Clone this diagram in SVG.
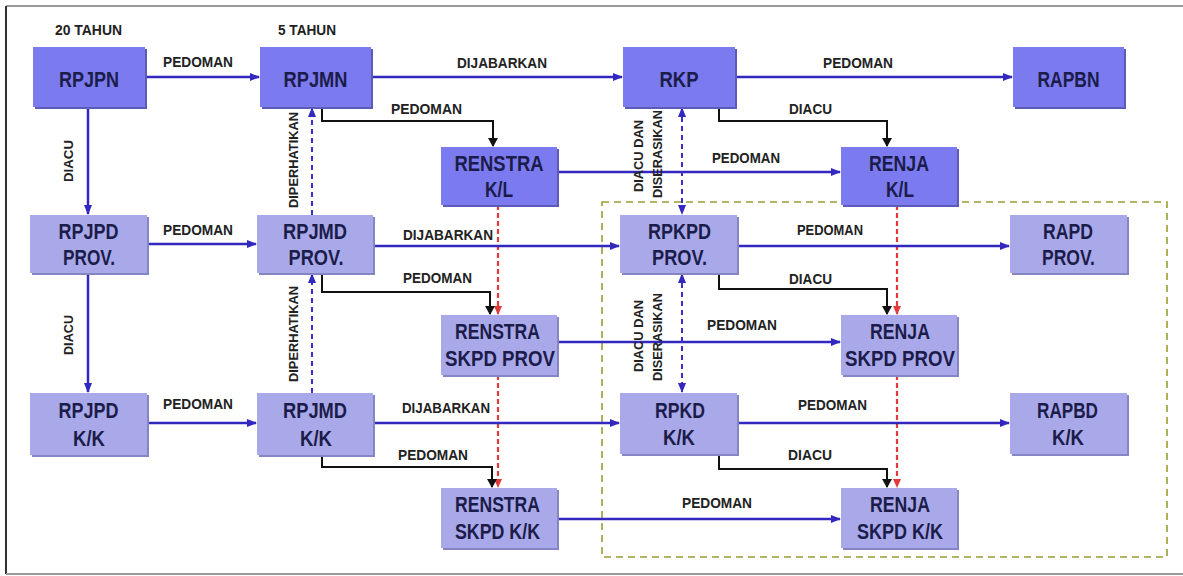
<svg xmlns="http://www.w3.org/2000/svg" width="1183" height="576" viewBox="0 0 1183 576">
<defs>
<style>
.bg{fill:#ffffff}
.frameT{stroke:#9a9a9a;stroke-width:2;fill:none}
.frameL{stroke:#333333;stroke-width:2;fill:none}
.dark{fill:#7b7bef}
.darkS{fill:#5c5cb8}
.light{fill:#a9a9ea}
.lightS{fill:#8585c4}
.nt{font-family:"Liberation Sans",Arial,sans-serif;font-weight:bold;font-size:22px;fill:#1c1c4a;text-anchor:middle}
.lb{font-family:"Liberation Sans",Arial,sans-serif;font-weight:bold;font-size:14.5px;fill:#222222}
.vl{font-family:"Liberation Sans",Arial,sans-serif;font-weight:bold;font-size:13.5px;fill:#222222;text-anchor:middle}
.blue{stroke:#3228c0;stroke-width:2.5;fill:none}
.black{stroke:#111111;stroke-width:2;fill:none}
.bdash{stroke:#3a30c8;stroke-width:2;stroke-dasharray:5 4;fill:none}
.rdash{stroke:#e03a3a;stroke-width:2.2;stroke-dasharray:5 3;fill:none}
.odash{stroke:#9c9c34;stroke-width:1.6;stroke-dasharray:7 5;fill:none}
</style>
<marker id="ab" markerUnits="userSpaceOnUse" markerWidth="10" markerHeight="8" refX="9" refY="4" orient="auto-start-reverse"><path d="M0,0 L10,4 L0,8 z" fill="#3228c0"/></marker>
<marker id="ak" markerUnits="userSpaceOnUse" markerWidth="9" markerHeight="10" refX="8" refY="5" orient="auto"><path d="M0,0 L9,5 L0,10 z" fill="#111111"/></marker>
<marker id="ar" markerUnits="userSpaceOnUse" markerWidth="9" markerHeight="8" refX="8" refY="4" orient="auto"><path d="M0,0 L9,4 L0,8 z" fill="#e03a3a"/></marker>
</defs>
<rect class="bg" x="0" y="0" width="1183" height="576"/>
<g id="frame">
<line class="frameT" x1="6" y1="6" x2="1183" y2="6"/>
<line class="frameL" x1="6" y1="6" x2="6" y2="574"/>
<line class="frameT" x1="6" y1="574" x2="1183" y2="574"/>
<rect class="odash" x="602" y="202" width="565" height="355"/>
</g>
<g id="headers">
<text class="lb" x="55" y="35" textLength="67" lengthAdjust="spacingAndGlyphs">20 TAHUN</text>
<text class="lb" x="278" y="35" textLength="58" lengthAdjust="spacingAndGlyphs">5 TAHUN</text>
</g>
<g id="connectors">
<line class="blue" x1="145" y1="77" x2="259" y2="77" marker-end="url(#ab)"/>
<text class="lb" x="163" y="67" textLength="70" lengthAdjust="spacingAndGlyphs">PEDOMAN</text>
<line class="blue" x1="371" y1="77" x2="622" y2="77" marker-end="url(#ab)"/>
<text class="lb" x="457" y="68" textLength="90" lengthAdjust="spacingAndGlyphs">DIJABARKAN</text>
<line class="blue" x1="735" y1="77" x2="1012" y2="77" marker-end="url(#ab)"/>
<text class="lb" x="823" y="68" textLength="70" lengthAdjust="spacingAndGlyphs">PEDOMAN</text>
<polyline class="black" points="322,107 322,121 493,121 493,146" marker-end="url(#ak)"/>
<text class="lb" x="391" y="114" textLength="71" lengthAdjust="spacingAndGlyphs">PEDOMAN</text>
<polyline class="black" points="719,107 719,121 887,121 887,146" marker-end="url(#ak)"/>
<text class="lb" x="789" y="114" textLength="43" lengthAdjust="spacingAndGlyphs">DIACU</text>
<line class="blue" x1="557" y1="172" x2="840" y2="172" marker-end="url(#ab)"/>
<text class="lb" x="712" y="163" textLength="68" lengthAdjust="spacingAndGlyphs">PEDOMAN</text>
<line class="blue" x1="88" y1="107" x2="88" y2="214" marker-end="url(#ab)"/>
<text class="vl" transform="translate(73 161) rotate(-90)" textLength="42" lengthAdjust="spacingAndGlyphs">DIACU</text>
<line class="bdash" x1="312" y1="215" x2="312" y2="108" marker-end="url(#ab)"/>
<text class="vl" transform="translate(298 160) rotate(-90)" textLength="96" lengthAdjust="spacingAndGlyphs">DIPERHATIKAN</text>
<line class="bdash" x1="682" y1="108" x2="682" y2="214" marker-start="url(#ab)" marker-end="url(#ab)"/>
<text class="vl" transform="translate(643 156) rotate(-90)" textLength="72" lengthAdjust="spacingAndGlyphs">DIACU DAN</text>
<text class="vl" transform="translate(662 154) rotate(-90)" textLength="88" lengthAdjust="spacingAndGlyphs">DISERASIKAN</text>
<line class="rdash" x1="498" y1="205" x2="498" y2="314" marker-end="url(#ar)"/>
<line class="rdash" x1="897" y1="205" x2="897" y2="314" marker-end="url(#ar)"/>
<line class="blue" x1="147" y1="244" x2="256" y2="244" marker-end="url(#ab)"/>
<text class="lb" x="163" y="235" textLength="70" lengthAdjust="spacingAndGlyphs">PEDOMAN</text>
<line class="blue" x1="373" y1="246" x2="619" y2="246" marker-end="url(#ab)"/>
<text class="lb" x="403" y="240" textLength="90" lengthAdjust="spacingAndGlyphs">DIJABARKAN</text>
<line class="blue" x1="737" y1="246" x2="1009" y2="246" marker-end="url(#ab)"/>
<text class="lb" x="797" y="235" textLength="66" lengthAdjust="spacingAndGlyphs">PEDOMAN</text>
<polyline class="black" points="322,273 322,292 490,292 490,314" marker-end="url(#ak)"/>
<text class="lb" x="403" y="283" textLength="69" lengthAdjust="spacingAndGlyphs">PEDOMAN</text>
<polyline class="black" points="719,273 719,289 887,289 887,314" marker-end="url(#ak)"/>
<text class="lb" x="789" y="284" textLength="43" lengthAdjust="spacingAndGlyphs">DIACU</text>
<line class="blue" x1="557" y1="342" x2="840" y2="342" marker-end="url(#ab)"/>
<text class="lb" x="707" y="330" textLength="70" lengthAdjust="spacingAndGlyphs">PEDOMAN</text>
<line class="blue" x1="88" y1="273" x2="88" y2="392" marker-end="url(#ab)"/>
<text class="vl" transform="translate(73 335) rotate(-90)" textLength="40" lengthAdjust="spacingAndGlyphs">DIACU</text>
<line class="bdash" x1="312" y1="393" x2="312" y2="274" marker-end="url(#ab)"/>
<text class="vl" transform="translate(298 334) rotate(-90)" textLength="96" lengthAdjust="spacingAndGlyphs">DIPERHATIKAN</text>
<line class="bdash" x1="682" y1="274" x2="682" y2="392" marker-start="url(#ab)" marker-end="url(#ab)"/>
<text class="vl" transform="translate(643 336) rotate(-90)" textLength="72" lengthAdjust="spacingAndGlyphs">DIACU DAN</text>
<text class="vl" transform="translate(662 337) rotate(-90)" textLength="88" lengthAdjust="spacingAndGlyphs">DISERASIKAN</text>
<line class="rdash" x1="498" y1="375" x2="498" y2="487" marker-end="url(#ar)"/>
<line class="rdash" x1="897" y1="375" x2="897" y2="487" marker-end="url(#ar)"/>
<line class="blue" x1="147" y1="423" x2="256" y2="423" marker-end="url(#ab)"/>
<text class="lb" x="163" y="409" textLength="70" lengthAdjust="spacingAndGlyphs">PEDOMAN</text>
<line class="blue" x1="373" y1="423" x2="619" y2="423" marker-end="url(#ab)"/>
<text class="lb" x="402" y="413" textLength="88" lengthAdjust="spacingAndGlyphs">DIJABARKAN</text>
<line class="blue" x1="737" y1="423" x2="1009" y2="423" marker-end="url(#ab)"/>
<text class="lb" x="798" y="410" textLength="69" lengthAdjust="spacingAndGlyphs">PEDOMAN</text>
<polyline class="black" points="322,455 322,467 492,467 492,487" marker-end="url(#ak)"/>
<text class="lb" x="398" y="460" textLength="70" lengthAdjust="spacingAndGlyphs">PEDOMAN</text>
<polyline class="black" points="719,454 719,469 887,469 887,487" marker-end="url(#ak)"/>
<text class="lb" x="788" y="460" textLength="44" lengthAdjust="spacingAndGlyphs">DIACU</text>
<line class="blue" x1="557" y1="519" x2="840" y2="519" marker-end="url(#ab)"/>
<text class="lb" x="682" y="508" textLength="70" lengthAdjust="spacingAndGlyphs">PEDOMAN</text>
</g>
<g id="n-rpjpn"><rect class="darkS" x="35" y="49" width="112" height="60"/><rect class="dark" x="33" y="47" width="112" height="60"/><text class="nt" x="89" y="87" textLength="60" lengthAdjust="spacingAndGlyphs">RPJPN</text></g>
<g id="n-rpjmn"><rect class="darkS" x="262" y="49" width="111" height="60"/><rect class="dark" x="260" y="47" width="111" height="60"/><text class="nt" x="315.5" y="87" textLength="64" lengthAdjust="spacingAndGlyphs">RPJMN</text></g>
<g id="n-rkp"><rect class="darkS" x="625" y="49" width="112" height="60"/><rect class="dark" x="623" y="47" width="112" height="60"/><text class="nt" x="679" y="87" textLength="39" lengthAdjust="spacingAndGlyphs">RKP</text></g>
<g id="n-rapbn"><rect class="darkS" x="1015" y="49" width="111" height="60"/><rect class="dark" x="1013" y="47" width="111" height="60"/><text class="nt" x="1068.5" y="87" textLength="62" lengthAdjust="spacingAndGlyphs">RAPBN</text></g>
<g id="n-renstra-kl"><rect class="darkS" x="443" y="149" width="116" height="58"/><rect class="dark" x="441" y="147" width="116" height="58"/><text class="nt" x="499" y="171" textLength="89" lengthAdjust="spacingAndGlyphs">RENSTRA</text><text class="nt" x="499" y="197" textLength="28" lengthAdjust="spacingAndGlyphs">K/L</text></g>
<g id="n-renja-kl"><rect class="darkS" x="843" y="149" width="116" height="58"/><rect class="dark" x="841" y="147" width="116" height="58"/><text class="nt" x="899" y="171" textLength="60" lengthAdjust="spacingAndGlyphs">RENJA</text><text class="nt" x="900" y="197" textLength="28" lengthAdjust="spacingAndGlyphs">K/L</text></g>
<g id="n-rpjpd-prov"><rect class="lightS" x="32" y="217" width="117" height="58"/><rect class="light" x="30" y="215" width="117" height="58"/><text class="nt" x="88.5" y="239" textLength="60" lengthAdjust="spacingAndGlyphs">RPJPD</text><text class="nt" x="89" y="265" textLength="52" lengthAdjust="spacingAndGlyphs">PROV.</text></g>
<g id="n-rpjmd-prov"><rect class="lightS" x="259" y="217" width="116" height="58"/><rect class="light" x="257" y="215" width="116" height="58"/><text class="nt" x="315" y="239" textLength="64" lengthAdjust="spacingAndGlyphs">RPJMD</text><text class="nt" x="316" y="265" textLength="55" lengthAdjust="spacingAndGlyphs">PROV.</text></g>
<g id="n-rpkpd-prov"><rect class="lightS" x="622" y="217" width="117" height="58"/><rect class="light" x="620" y="215" width="117" height="58"/><text class="nt" x="679.5" y="239" textLength="63" lengthAdjust="spacingAndGlyphs">RPKPD</text><text class="nt" x="679.5" y="265" textLength="55" lengthAdjust="spacingAndGlyphs">PROV.</text></g>
<g id="n-rapd-prov"><rect class="lightS" x="1012" y="217" width="117" height="58"/><rect class="light" x="1010" y="215" width="117" height="58"/><text class="nt" x="1068" y="239" textLength="50" lengthAdjust="spacingAndGlyphs">RAPD</text><text class="nt" x="1068.5" y="265" textLength="53" lengthAdjust="spacingAndGlyphs">PROV.</text></g>
<g id="n-renstra-skpd-prov"><rect class="lightS" x="443" y="317" width="116" height="60"/><rect class="light" x="441" y="315" width="116" height="60"/><text class="nt" x="497.5" y="339" textLength="85" lengthAdjust="spacingAndGlyphs">RENSTRA</text><text class="nt" x="500" y="366" textLength="110" lengthAdjust="spacingAndGlyphs">SKPD PROV</text></g>
<g id="n-renja-skpd-prov"><rect class="lightS" x="843" y="317" width="116" height="60"/><rect class="light" x="841" y="315" width="116" height="60"/><text class="nt" x="900" y="339" textLength="60" lengthAdjust="spacingAndGlyphs">RENJA</text><text class="nt" x="900" y="366" textLength="110" lengthAdjust="spacingAndGlyphs">SKPD PROV</text></g>
<g id="n-rpjpd-kk"><rect class="lightS" x="32" y="395" width="117" height="62"/><rect class="light" x="30" y="393" width="117" height="62"/><text class="nt" x="88.5" y="418" textLength="60" lengthAdjust="spacingAndGlyphs">RPJPD</text><text class="nt" x="89" y="446" textLength="32" lengthAdjust="spacingAndGlyphs">K/K</text></g>
<g id="n-rpjmd-kk"><rect class="lightS" x="259" y="395" width="116" height="62"/><rect class="light" x="257" y="393" width="116" height="62"/><text class="nt" x="315" y="418" textLength="64" lengthAdjust="spacingAndGlyphs">RPJMD</text><text class="nt" x="316" y="446" textLength="32" lengthAdjust="spacingAndGlyphs">K/K</text></g>
<g id="n-rpkd-kk"><rect class="lightS" x="622" y="395" width="117" height="61"/><rect class="light" x="620" y="393" width="117" height="61"/><text class="nt" x="680" y="418" textLength="50" lengthAdjust="spacingAndGlyphs">RPKD</text><text class="nt" x="679" y="445" textLength="32" lengthAdjust="spacingAndGlyphs">K/K</text></g>
<g id="n-rapbd-kk"><rect class="lightS" x="1012" y="395" width="117" height="61"/><rect class="light" x="1010" y="393" width="117" height="61"/><text class="nt" x="1067.5" y="418" textLength="61" lengthAdjust="spacingAndGlyphs">RAPBD</text><text class="nt" x="1068" y="445" textLength="32" lengthAdjust="spacingAndGlyphs">K/K</text></g>
<g id="n-renstra-skpd-kk"><rect class="lightS" x="443" y="490" width="116" height="60"/><rect class="light" x="441" y="488" width="116" height="60"/><text class="nt" x="497.5" y="512" textLength="85" lengthAdjust="spacingAndGlyphs">RENSTRA</text><text class="nt" x="497.5" y="539" textLength="85" lengthAdjust="spacingAndGlyphs">SKPD K/K</text></g>
<g id="n-renja-skpd-kk"><rect class="lightS" x="843" y="490" width="116" height="60"/><rect class="light" x="841" y="488" width="116" height="60"/><text class="nt" x="900" y="512" textLength="60" lengthAdjust="spacingAndGlyphs">RENJA</text><text class="nt" x="900" y="539" textLength="86" lengthAdjust="spacingAndGlyphs">SKPD K/K</text></g>
</svg>
